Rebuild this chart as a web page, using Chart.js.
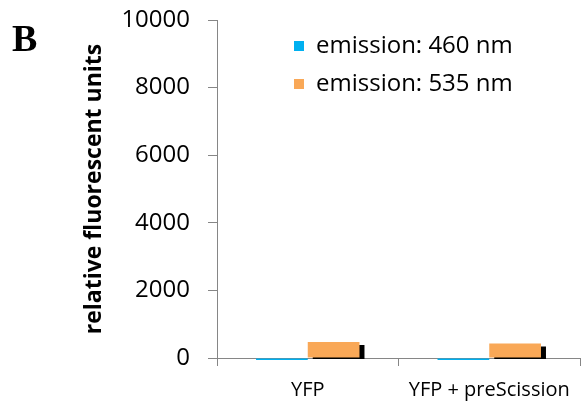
<!DOCTYPE html>
<html>
<head>
<meta charset="utf-8">
<script src="https://cdn.jsdelivr.net/npm/chart.js@4"></script>
<style>
  html, body { margin: 0; padding: 0; background: #fff; }
  #wrap { position: relative; width: 585px; height: 405px; }
  #panel { position: absolute; left: 12px; top: 16px; font: bold 38px "Liberation Serif", serif; color: #000; }
</style>
</head>
<body>
<div id="wrap">
  <canvas id="chart1" width="585" height="405"></canvas>
  <div id="panel">B</div>
</div>
<script>
const categories = ['YFP', 'YFP + preScission'];
const em460 = [-60, -60];
const em535 = [470, 430];
const yTicks = [0, 2000, 4000, 6000, 8000, 10000];

const axisGray = '#868686';

// Excel-style drop shadow on the 535 nm bars
const barShadow = {
    id: 'barShadow',
    beforeDatasetDraw(chart, args) {
        if (args.index !== 1) return;
        const c = chart.ctx;
        c.save();
        c.shadowColor = '#000';
        c.shadowOffsetX = 5;
        c.shadowOffsetY = 3;
        c.shadowBlur = 0;
    },
    afterDatasetDraw(chart, args) {
        if (args.index === 1) chart.ctx.restore();
    }
};

// legend sits inside the plot, nudged like the original
const legendShift = {
    id: 'legendShift',
    afterLayout(chart) {
        const lg = chart.legend;
        const dx = chart.chartArea.left + 63 - lg.left;
        const dy = chart.chartArea.top - lg.top;
        lg.left += dx; lg.right += dx;
        lg.top += dy; lg.bottom += dy;
    }
};

const ctx1 = document.getElementById('chart1').getContext('2d');
const chart1 = new Chart(ctx1, {
    type: 'bar',
    data: {
        labels: categories,
        datasets: [{
            label: 'emission: 460 nm',
            data: em460,
            backgroundColor: '#00b0f0',
            clip: false
        }, {
            label: 'emission: 535 nm',
            data: em535,
            backgroundColor: '#f9a857',
            clip: 1
        }]
    },
    plugins: [barShadow, legendShift],
    options: {
        responsive: false,
        animation: false,
        layout: { padding: { left: 0, right: 5, top: 20, bottom: -9 } },
        datasets: {
            bar: { barPercentage: 1, categoryPercentage: 0.57 }
        },
        plugins: {
            legend: {
                position: 'chartArea',
                fullSize: false,
                align: 'start',
                labels: {
                    boxWidth: 10,
                    boxHeight: 10,
                    padding: 14,
                    color: '#000',
                    font: { family: 'Open Sans', size: 24 }
                }
            },
            tooltip: { enabled: false }
        },
        scales: {
            x: {
                grid: {
                    offset: true,
                    drawOnChartArea: false,
                    tickLength: 8,
                    color: axisGray
                },
                border: { color: axisGray },
                ticks: {
                    color: '#000',
                    padding: 12,
                    font: { family: 'Open Sans', size: 20 }
                }
            },
            y: {
                min: 0,
                max: 10000,
                afterFit(scale) {
                    scale.width = 217;
                    scale.paddingTop = 0;
                    scale.paddingBottom = 0;
                },
                afterBuildTicks(scale) { scale.ticks = yTicks.map(v => ({ value: v })); },
                grid: {
                    drawOnChartArea: false,
                    tickLength: 9,
                    color: axisGray
                },
                border: { color: axisGray },
                ticks: {
                    color: '#000',
                    padding: 18,
                    font: { family: 'Open Sans', size: 24 },
                    callback: v => String(v)
                },
                title: {
                    display: true,
                    text: 'relative fluorescent units',
                    color: '#000',
                    padding: { top: 81, bottom: 0 },
                    font: { family: 'Open Sans', size: 23, weight: 'bold' }
                }
            }
        }
    }
});
</script>
</body>
</html>
